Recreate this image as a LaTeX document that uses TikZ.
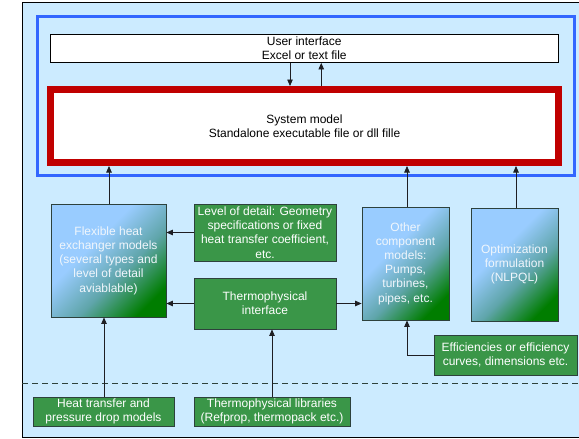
\documentclass[tikz,border=0pt]{standalone}
\usepackage{fontspec}
\setmainfont{Liberation Sans}
\usetikzlibrary{arrows.meta,calc}
\definecolor{bgblue}{RGB}{204,235,255}
\definecolor{frameblue}{RGB}{51,102,255}
\definecolor{framered}{RGB}{192,0,0}
\definecolor{gfill}{RGB}{58,150,72}
\definecolor{gborder}{RGB}{45,65,60}
\definecolor{gradtop}{RGB}{153,204,255}
\definecolor{gradmid}{RGB}{95,165,170}
\definecolor{gradbot}{RGB}{0,125,0}
\definecolor{lighttext}{RGB}{240,246,252}
\definecolor{arrcol}{RGB}{30,30,35}
\pgfdeclareverticalshading{hxshade}{100bp}{color(0bp)=(gradbot); color(24bp)=(gradbot); color(42bp)=(gradmid); color(60bp)=(gradtop); color(100bp)=(gradtop)}
\begin{document}
\begin{tikzpicture}[x=1pt,y=-1pt,
  font=\fontsize{12}{14.2}\selectfont,
  box/.style={rectangle, inner sep=1pt, align=center, line width=0.8pt},
  greenbox/.style={box, draw=gborder, fill=gfill, text=white},
  gradbox/.style={box, draw=gborder, shading=hxshade, shading angle=45, text=lighttext},
  arr/.style={-{Triangle[length=6.5pt,width=5.5pt]}, line width=0.8pt, draw=arrcol}]
\useasboundingbox (0,0) rectangle (579,439);
% background
\fill[bgblue] (22,2) rectangle (579,437);
\draw[line width=0.8pt, black] (579,2) -- (22,2) -- (22,437) -- (579,437);
% blue frame
\node[draw=frameblue, line width=3pt, minimum width=536.5pt, minimum height=159.5pt, inner sep=0pt] (frame) at (305.75,95.75) {};
% dashed separator
\coordinate (dl) at (22,383);
\coordinate (dr) at (579,383);
\draw[line width=0.8pt, draw=gborder, dash pattern=on 6pt off 4pt] (dl) -- (dr);
% nodes
\node[box, draw=black, fill=white, minimum width=507.5pt, minimum height=28.5pt, font=\fontsize{12}{13.3}\selectfont] (ui) at (304.25,48.25) {User interface\\Excel or text file};
\node[box, draw=framered, fill=white, line width=7pt, minimum width=508pt, minimum height=73pt] (sys) at (304.5,126) {System model\\Standalone executable file or dll fille};
\node[gradbox, minimum width=115pt, minimum height=113pt] (flex) at (108.5,260.5) {Flexible heat\\exchanger models\\(several types and\\level of detail\\aviablable)};
\node[greenbox, minimum width=142pt, minimum height=57pt] (lod) at (265,232.5) {Level of detail: Geometry\\specifications or fixed\\heat transfer coefficient,\\etc.};
\node[greenbox, minimum width=142pt, minimum height=51pt] (tif) at (265,303.5) {Thermophysical\\interface};
\node[gradbox, minimum width=87pt, minimum height=113pt] (other) at (405.5,263.5) {Other\\component\\models:\\Pumps,\\turbines,\\pipes, etc.};
\node[gradbox, minimum width=87pt, minimum height=113pt] (opt) at (514.5,264.5) {Optimization\\formulation\\(NLPQL)};
\node[greenbox, minimum width=143pt, minimum height=40pt] (eff) at (505.5,355) {Efficiencies or efficiency\\curves, dimensions etc.};
\node[greenbox, minimum width=141pt, minimum height=29pt] (heat) at (103.5,411.5) {Heat transfer and\\pressure drop models};
\node[greenbox, minimum width=156pt, minimum height=29pt] (libs) at (272,411.5) {Thermophysical libraries\\(Refprop, thermopack etc.)};
% connectors
\draw[arr] ([xshift=-14.25pt]ui.south) -- ([xshift=-14.25pt]ui.south |- sys.north);
\draw[arr] ([xshift=16.75pt]sys.north) -- ([xshift=16.75pt]sys.north |- ui.south);
\draw[arr] ([xshift=0.5pt]flex.north) -- ([xshift=0.5pt]flex.north |- sys.south);
\draw[arr] ([xshift=1.5pt]other.north) -- ([xshift=1.5pt]other.north |- sys.south);
\draw[arr] ([xshift=1.5pt]opt.north) -- ([xshift=1.5pt]opt.north |- sys.south);
\draw[arr] (lod.west) -- (lod.west -| flex.east);
\draw[arr] (tif.west) -- (tif.west -| flex.east);
\draw[arr] (tif.east) -- (tif.east -| other.west);
\draw[arr] ([xshift=0.5pt]heat.north) -- ([xshift=0.5pt]heat.north |- flex.south);
\draw[arr] (libs.north) -- (libs.north |- tif.south);
\draw[arr] (eff.west) -| ([xshift=1.5pt]other.south);
\end{tikzpicture}
\end{document}
